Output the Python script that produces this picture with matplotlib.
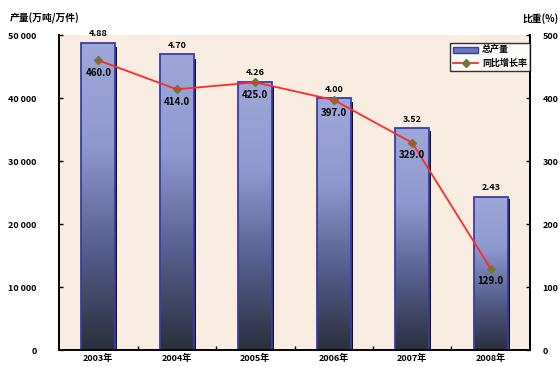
import numpy as np
import matplotlib
matplotlib.use("Agg")
import matplotlib.pyplot as plt
from matplotlib.colors import LinearSegmentedColormap
from matplotlib.patches import Rectangle, Patch
from matplotlib.lines import Line2D

plt.rcParams['font.family'] = ['Noto Sans CJK SC', 'DejaVu Sans']

# ---- data ----
categories = ["2003年", "2004年", "2005年", "2006年", "2007年", "2008年"]
bar_values = [48780, 46980, 42590, 40000, 35240, 24340]
line_values = [460, 414, 425, 397, 329, 129]
left_ticks = [0, 10000, 20000, 30000, 40000, 50000]
left_ticklabels = ["0", "10 000", "20 000", "30 000", "40 000", "50 000"]
right_ticks = [0, 100, 200, 300, 400, 500]
right_ticklabels = ["0", "100", "200", "300", "400", "500"]
bar_name = "总产量"
line_name = "同比增长率"
left_title = "产量(万吨/万件)"
right_title = "比重(%)"

fig = plt.figure(figsize=(5.6, 3.67), dpi=100)
fig.patch.set_facecolor("white")
ax = fig.add_axes([0.1054, 0.0463, 0.841, 0.858])
ax.set_facecolor("#f8ede0")

x = np.arange(len(categories))
w = 0.43

cmap = LinearSegmentedColormap.from_list("g", ["#2b2f3e", "#56608e", "#8e99cf", "#9ea8d8"])
grad = np.linspace(0, 1, 256).reshape(-1, 1)

bars = ax.bar(x, bar_values, width=w, color="none", edgecolor="#3c3ca8", linewidth=1.3, zorder=3)
for b in bars:
    x0, y0 = b.get_x(), b.get_y()
    bw, bh = b.get_width(), b.get_height()
    im = ax.imshow(grad, cmap=cmap, aspect="auto", origin="lower",
                   extent=[x0, x0 + bw, y0, y0 + bh], zorder=2)
    im.set_clip_path(b)
    ax.add_patch(Rectangle((x0 + bw, y0), 0.025, bh * 0.985, color="#101018", zorder=2.5, lw=0))

ax.set_xlim(-0.5, len(categories) - 0.5)
ax.set_ylim(0, 50000)

for xi, v in zip(x, bar_values):
    ax.text(xi, v + 700, f"{v/10000:.2f}", ha="center", va="bottom", fontsize=6.5,
            fontweight="bold", color="black", zorder=6)

ax2 = ax.twinx()
ax2.set_ylim(0, 500)
ax2.plot(x, line_values, color="#6a7a3a", marker="D", markersize=4.5, linestyle="none", zorder=4)
ax2.plot(x, line_values, color="#ff2a2a", linewidth=1.3, zorder=5)
for xi, v in zip(x, line_values):
    ax2.text(xi, v - 12, f"{v:.1f}", ha="center", va="top", fontsize=7,
             fontweight="bold", color="black", zorder=6)

ax.set_yticks(left_ticks)
ax.set_yticklabels(left_ticklabels, fontsize=6.5, fontweight="bold")
ax2.set_yticks(right_ticks)
ax2.set_yticklabels(right_ticklabels, fontsize=6.5, fontweight="bold")
ax.tick_params(axis="y", direction="in", length=3, width=1, pad=16)
ax2.tick_params(axis="y", direction="in", length=3, width=1, pad=9)

ax.set_xticks(x)
ax.set_xticklabels(categories, fontsize=6.5, fontweight="bold")
ax.set_xticks(np.arange(len(categories) - 1) + 0.5, minor=True)
ax.tick_params(axis="x", which="major", length=0, pad=3)
ax.tick_params(axis="x", which="minor", direction="in", length=3, width=1)

for a in (ax, ax2):
    a.spines["top"].set_visible(False)
    for s in ("left", "right", "bottom"):
        a.spines[s].set_linewidth(1.2)
        a.spines[s].set_color("black")

fig.text(0.018, 0.95, left_title, fontsize=7, fontweight="bold", ha="left", va="center")
fig.text(0.998, 0.95, right_title, fontsize=7, fontweight="bold", ha="right", va="center")

handles = [Patch(facecolor="#6a78b8", edgecolor="#3c3ca8"),
           Line2D([0], [0], color="#ff2a2a", marker="D", markersize=4,
                  markerfacecolor="#6a7a3a", markeredgecolor="#6a7a3a", lw=1.3)]
leg = ax2.legend(handles, [bar_name, line_name], loc="upper right",
                 bbox_to_anchor=(1.0, 0.975), frameon=True, fancybox=False,
                 borderpad=0.35, handlelength=2.8, handletextpad=0.4, labelspacing=0.35,
                 borderaxespad=0.0, prop={"weight": "bold", "size": 6.5})
leg.get_frame().set_edgecolor("black")
leg.get_frame().set_linewidth(1.0)
leg.get_frame().set_facecolor("white")

fig.savefig("out.png", dpi=100)
